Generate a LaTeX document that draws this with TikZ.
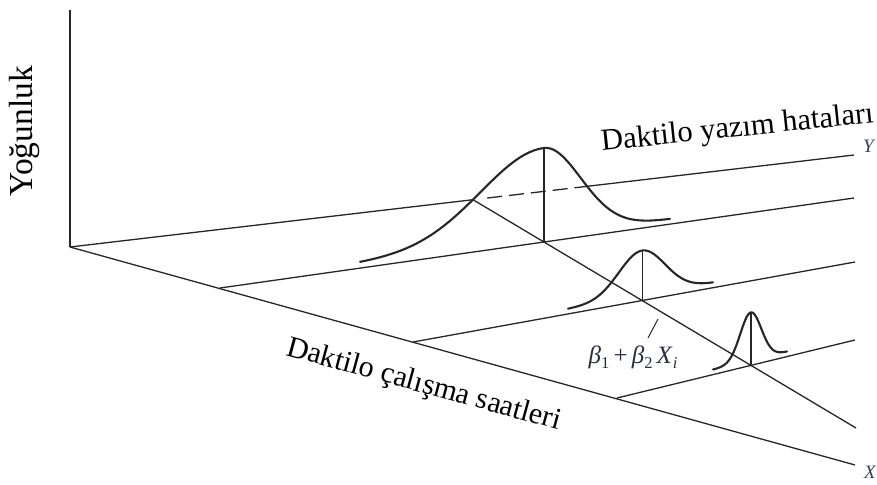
\documentclass[tikz,border=0pt]{standalone}
\usepackage{fontspec}
\setmainfont{Liberation Serif}
\usetikzlibrary{calc}
\definecolor{ink}{HTML}{262626}
\definecolor{labink}{HTML}{2A2D3A}
\definecolor{axink}{HTML}{34425F}
\newcommand{\sbx}[1]{\raisebox{-5.5pt}{\fontsize{16.5}{16.5}\selectfont #1}}
\begin{document}
\begin{tikzpicture}[x=1pt,y=-1pt,
  axisline/.style={line width=1.3pt, draw=ink},
  bell/.style={line width=2.1pt, draw=ink, line cap=round},
  lab/.style={inner sep=0pt, text=black},
  axlab/.style={font=\fontsize{19}{22}\selectfont\itshape, inner sep=0pt, text=axink},
  betalab/.style={font=\fontsize{25}{29}\selectfont, inner sep=0pt, text=labink}]
\useasboundingbox (0,0) rectangle (877,484);
% axes and grid lines
\coordinate (O) at (70,247);
\coordinate (V) at (70,10);
\coordinate (L1e) at (854,155);
\coordinate (L2s) at (220,288); \coordinate (L2e) at (854,198);
\coordinate (L3s) at (413,342); \coordinate (L3e) at (855,262);
\coordinate (L4s) at (617,398); \coordinate (L4e) at (855,340);
\coordinate (Xe) at (855,465);
\coordinate (R0) at ($(O)!0.514!(L1e)$);
\coordinate (D0) at ($(O)!0.532!(L1e)$);
\coordinate (D1) at ($(O)!0.659!(L1e)$);
\coordinate (Re) at (856,428);
\coordinate (P2) at (intersection of R0--Re and L2s--L2e);
\coordinate (P3) at (intersection of R0--Re and L3s--L3e);
\coordinate (P4) at (intersection of R0--Re and L4s--L4e);
\coordinate (T2) at ($(P2)+(0,-94)$);
\coordinate (T3) at ($(P3)+(0,-50)$);
\coordinate (T4) at ($(P4)+(0,-53)$);

\draw[axisline] (O) -- (V);
\draw[axisline] (O) -- (R0);
\draw[axisline, dash pattern=on 15pt off 7pt] (D0) -- (D1);
\draw[axisline] (D1) -- (L1e);
\draw[axisline] (O) -- (Xe);
\draw[axisline] (L2s) -- (L2e);
\draw[axisline] (L3s) -- (L3e);
\draw[axisline] (L4s) -- (L4e);
\draw[axisline] (R0) -- (Re);

% verticals
\draw[axisline] (P2) -- (T2);
\draw[axisline] (P3) -- (T3);
\draw[axisline] (P4) -- (T4);

% bell curves
\draw[bell] plot[domain=360:543.6, samples=90] (\x, {288-0.14196*(\x-220)-5-89*exp(-0.5*((\x-543.6)/63)^2)})
   -- plot[domain=543.6:670, samples=70] (\x, {288-0.14196*(\x-220)-5-89*exp(-0.5*((\x-543.6)/37)^2)});
\draw[bell] plot[domain=568:713, samples=90] (\x, {342-0.181*(\x-413)-5-45*exp(-0.5*((\x-641.9)/23)^2)});
\draw[bell] plot[domain=713:787, samples=70] (\x, {398-0.2437*(\x-617)-5-48*exp(-0.5*((\x-750.8)/10.5)^2)});

% labels
\node[lab, font=\fontsize{33.5}{40}\selectfont, rotate=90, anchor=base west] (dens) at (32,197) {Yoğunluk};
\node[lab, font=\fontsize{30.6}{37}\selectfont, rotate=6, anchor=base west] (ytitle) at (602,151) {Daktilo yazım hataları};
\node[lab, font=\fontsize{30}{36}\selectfont, rotate=-15.3, anchor=base west] (xtitle) at (285,355) {Daktilo çalışma saatleri};
\node[axlab, anchor=west] (Ylab) at (863,146) {Y};
\node[axlab, anchor=west] (Xlab) at (864,472) {X};
\node[betalab] (beta) at (633,357) {\textit{β}\sbx{1}\,+\,\textit{β}\sbx{2}\,\textit{X}\sbx{\textit{i}}};
\coordinate (tk1) at (658,319);
\coordinate (tk2) at (648,338);
\draw[line width=1pt, draw=ink] (tk1) -- (tk2);
\end{tikzpicture}
\end{document}
